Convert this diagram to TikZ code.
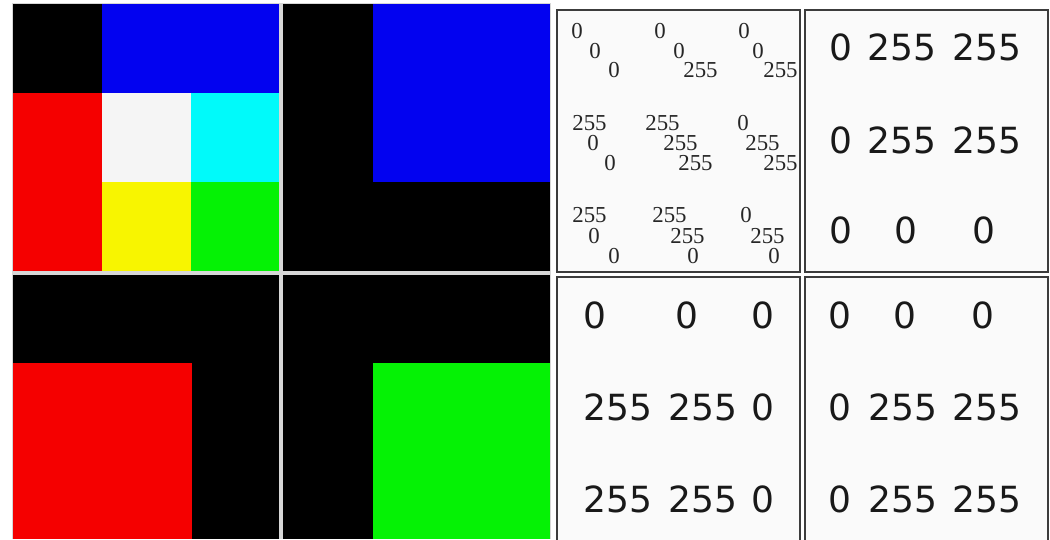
\documentclass[tikz,border=0pt]{standalone}
\usepackage{fontspec}
\setmainfont{Liberation Serif}
\setsansfont{DejaVu Sans}
\usepackage{xcolor}
\usetikzlibrary{positioning}
\definecolor{pixred}{RGB}{245,0,0}
\definecolor{pixgreen}{RGB}{5,242,5}
\definecolor{pixblue}{RGB}{2,2,240}
\definecolor{pixcyan}{RGB}{0,250,250}
\definecolor{pixyellow}{RGB}{248,245,0}
\definecolor{pixwhite}{RGB}{245,245,245}
\definecolor{gapgray}{RGB}{215,215,215}
\definecolor{boxgray}{RGB}{60,60,60}
\definecolor{boxfill}{RGB}{250,250,250}
\tikzset{
  panelbox/.style={draw=boxgray, fill=boxfill, line width=1.1pt},
  rgbval/.style={anchor=base west, inner sep=0pt, text=black!85,
    font=\fontsize{13}{15}\selectfont},
  pixval/.style={anchor=center, inner sep=0pt, text=black!90,
    font=\sffamily\fontsize{20.5}{24}\selectfont}
}

\begin{document}
\begin{tikzpicture}[x=0.02cm, y=-0.02cm]
        \useasboundingbox (0,0) rectangle (1050,539);
        \fill[white] (0,0) rectangle (1050,539);
        \fill[gapgray] (12,3) rectangle (551,539);
        % colour image
        \fill[black] (13,4) rectangle (102,93);
        \fill[pixblue] (102,4) rectangle (279,93);
        \fill[pixred] (13,93) rectangle (102,271);
        \fill[pixwhite] (102,93) rectangle (191,182);
        \fill[pixcyan] (191,93) rectangle (279,182);
        \fill[pixyellow] (102,182) rectangle (191,271);
        \fill[pixgreen] (191,182) rectangle (279,271);
        % blue channel
        \fill[black] (283,4) rectangle (550,271);
        \fill[pixblue] (373,4) rectangle (550,182);
        % red channel
        \fill[black] (13,275) rectangle (279,539);
        \fill[pixred] (13,363) rectangle (192,539);
        % green channel
        \fill[black] (283,275) rectangle (550,539);
        \fill[pixgreen] (373,363) rectangle (550,539);
        % value boxes
        \draw[panelbox] (557,10) rectangle (800,272);
        \draw[panelbox] (805,10) rectangle (1048,272);
        \draw[panelbox] (557,277) rectangle (800,542);
        \draw[panelbox] (805,277) rectangle (1048,542);
        % RGB triples
        \foreach \x/\y/\v [count=\i] in {
            571/38/0, 589/58/0, 608/77/0,
            654/38/0, 673/58/0, 683/77/255,
            738/38/0, 752/58/0, 763/77/255,
            572/130/255, 587/150/0, 604/170/0,
            645/130/255, 663/150/255, 678/170/255,
            737/130/0, 745/150/255, 763/170/255,
            572/222/255, 588/243/0, 608/263/0,
            652/222/255, 670/243/255, 687/263/0,
            740/222/0, 750/243/255, 768/263/0}
          \node[rgbval] (rgb\i) at (\x,\y) {\v};
        % blue values
        \foreach \x/\y/\v [count=\i] in {
            841/47/0, 902/47/255, 987/47/255,
            841/140/0, 902/140/255, 987/140/255,
            841/230/0, 906/230/0, 984/230/0}
          \node[pixval] (blu\i) at (\x,\y) {\v};
        % red values
        \foreach \x/\y/\v [count=\i] in {
            595/315/0, 687/315/0, 763/315/0,
            618/407/255, 703/407/255, 763/407/0,
            618/499/255, 703/499/255, 763/499/0}
          \node[pixval] (red\i) at (\x,\y) {\v};
        % green values
        \foreach \x/\y/\v [count=\i] in {
            840/315/0, 905/315/0, 983/315/0,
            840/407/0, 903/407/255, 987/407/255,
            840/499/0, 903/499/255, 987/499/255}
          \node[pixval] (grn\i) at (\x,\y) {\v};
    \end{tikzpicture}
\end{document}
